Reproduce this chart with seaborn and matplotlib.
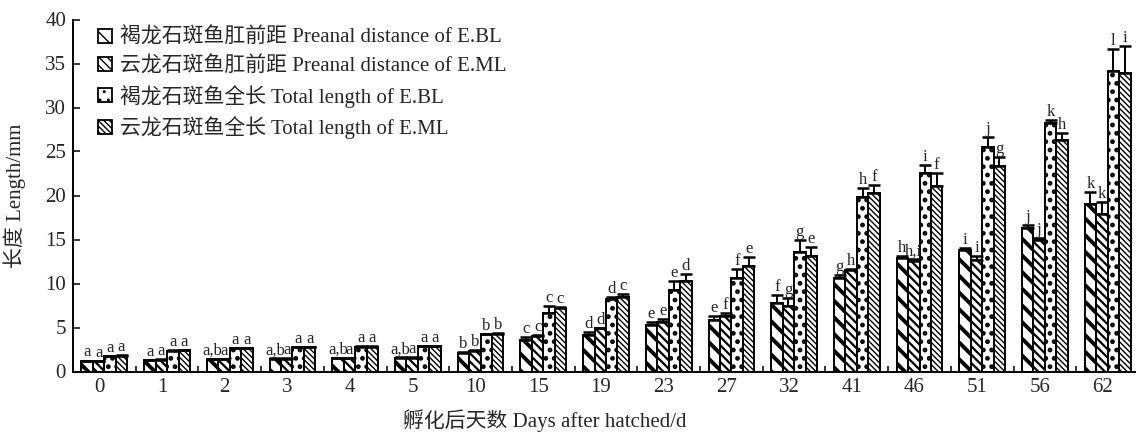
import numpy as np
import pandas as pd
import matplotlib
matplotlib.use('Agg')
import matplotlib.pyplot as plt
import matplotlib.transforms as mtransforms
import seaborn as sns
from matplotlib.patches import Patch
from matplotlib.ticker import MultipleLocator, FixedLocator

days = ['0', '1', '2', '3', '4', '5', '10', '15', '19', '23', '27', '32', '41', '46', '51', '56', '62']

series_names = [
    '褐龙石斑鱼肛前距 Preanal distance of E.BL',
    '云龙石斑鱼肛前距 Preanal distance of E.ML',
    '褐龙石斑鱼全长 Total length of E.BL',
    '云龙石斑鱼全长 Total length of E.ML',
]

bl_pd = [1.2, 1.27, 1.38, 1.45, 1.5, 1.57, 2.07, 3.6, 4.2, 5.3, 5.8, 7.75, 10.6, 12.9, 13.8, 16.3, 19.0]
ml_pd = [1.15, 1.35, 1.38, 1.45, 1.5, 1.57, 2.3, 4.0, 4.9, 5.65, 6.3, 7.4, 11.5, 12.55, 12.7, 14.9, 17.9]
bl_tl = [1.76, 2.36, 2.64, 2.75, 2.8, 2.9, 4.26, 6.6, 8.2, 9.3, 10.6, 13.6, 19.8, 22.6, 25.5, 28.2, 34.2]
ml_tl = [1.8, 2.4, 2.64, 2.75, 2.8, 2.9, 4.3, 7.25, 8.5, 10.3, 12.0, 13.1, 20.3, 21.1, 23.3, 26.3, 33.9]

bl_pd_err = [0.05, 0.05, 0.05, 0.05, 0.05, 0.05, 0.1, 0.35, 0.25, 0.35, 0.5, 0.95, 0.4, 0.2, 0.2, 0.3, 1.4]
ml_pd_err = [0.05, 0.05, 0.05, 0.05, 0.05, 0.05, 0.1, 0.1, 0.1, 0.35, 0.4, 0.9, 0.2, 0.2, 0.4, 0.3, 1.4]
bl_tl_err = [0.05, 0.05, 0.05, 0.05, 0.05, 0.05, 0.05, 0.8, 0.3, 1.0, 1.1, 1.3, 1.1, 0.9, 1.1, 0.4, 2.4]
ml_tl_err = [0.05, 0.05, 0.05, 0.05, 0.05, 0.05, 0.05, 0.1, 0.3, 0.8, 1.0, 1.1, 0.9, 1.5, 1.1, 0.8, 3.1]

bl_pd_lab = ['a', 'a', 'a,b', 'a,b', 'a,b', 'a,b', 'b', 'c', 'd', 'e', 'e', 'f', 'g', 'h', 'i', 'j', 'k']
ml_pd_lab = ['a', 'a', 'a', 'a', 'a', 'a', 'b', 'c', 'd', 'e', 'f', 'g', 'h', 'h,i', 'i', 'j', 'k']
bl_tl_lab = ['a', 'a', 'a', 'a', 'a', 'a', 'b', 'c', 'd', 'e', 'f', 'g', 'h', 'i', 'j', 'k', 'l']
ml_tl_lab = ['a', 'a', 'a', 'a', 'a', 'a', 'b', 'c', 'c', 'd', 'e', 'e', 'f', 'f', 'g', 'h', 'i']

values = [bl_pd, ml_pd, bl_tl, ml_tl]
errors = [bl_pd_err, ml_pd_err, bl_tl_err, ml_tl_err]
letters = [bl_pd_lab, ml_pd_lab, bl_tl_lab, ml_tl_lab]
hatches = ['\\\\', '\\\\\\\\', '..', '\\\\\\\\\\\\']
hatch_lw = [2.8, 1.6, 2.2, 1.0]

df = pd.DataFrame({
    'day': np.tile(days, 4),
    'series': np.repeat(series_names, len(days)),
    'length': np.concatenate(values),
})

sns.set_style('ticks')
plt.rcParams['font.family'] = ['Liberation Serif', 'Noto Sans CJK SC']
plt.rcParams['hatch.color'] = 'black'

fig = plt.figure(figsize=(11.36, 4.32), dpi=100)
ax = fig.add_axes([73 / 1136, 60.5 / 432, 1066 / 1136, 352 / 432])

sns.barplot(data=df, x='day', y='length', hue='series', order=days,
            hue_order=series_names, palette=['white'] * 4, width=0.73,
            errorbar=None, legend=False, edgecolor='black', linewidth=1.4,
            saturation=1, ax=ax)

bar_conts = list(ax.containers)
for i, cont in enumerate(bar_conts):
    xs, tops = [], []
    for bar in cont.patches:
        bar.set_hatch(hatches[i])
        bar.set_facecolor('white')
        try:
            bar.set_hatch_linewidth(hatch_lw[i])
        except AttributeError:
            pass
        xs.append(bar.get_x() + bar.get_width() / 2)
        tops.append(bar.get_height())
    ax.errorbar(xs, tops, yerr=[np.zeros(len(tops)), errors[i]], fmt='none',
                ecolor='black', elinewidth=1.4, capsize=4.5, capthick=1.8, zorder=3)
    for x, t, e, lab in zip(xs, tops, errors[i], letters[i]):
        ax.annotate(lab, (x, t + e), xytext=(0, 0), textcoords='offset points',
                    ha='center', va='bottom', fontsize=12)

ax.set_ylim(0, 40)
ax.set_xlim(-0.5, 16.5)
ax.yaxis.set_major_locator(MultipleLocator(5))
ax.xaxis.set_minor_locator(FixedLocator(np.arange(0.5, 16, 1)))
ax.tick_params(axis='y', direction='in', length=5, width=1.3, labelsize=15, pad=5)
ax.tick_params(axis='x', which='major', length=0, labelsize=15, pad=5)
ax.tick_params(axis='x', which='minor', direction='in', length=4, width=1.3)
for side in ['top', 'right']:
    ax.spines[side].set_visible(False)
for side in ['left', 'bottom']:
    ax.spines[side].set_linewidth(1.4)
    ax.spines[side].set_color('black')

# tick labels sit a little left of the group centres in the original
shift = mtransforms.ScaledTranslation(-5 / 100, 0, fig.dpi_scale_trans)
for lbl in ax.get_xticklabels():
    lbl.set_transform(lbl.get_transform() + shift)

ax.set_xlabel('孵化后天数 Days after hatched/d', fontsize=15)
ax.set_ylabel('长度 Length/mm', fontsize=15)
ax.xaxis.set_label_coords((545 - 73) / 1066, -0.108)
ax.yaxis.set_label_coords(-0.044, 0.5)

handles = []
for i, name in enumerate(series_names):
    p = Patch(facecolor='white', edgecolor='black', hatch=hatches[i], linewidth=1.3, label=name)
    try:
        p.set_hatch_linewidth(hatch_lw[i])
    except AttributeError:
        pass
    handles.append(p)
ax.legend(handles=handles, loc='upper left', bbox_to_anchor=(0.016, 1.0), frameon=False,
          fontsize=15, handlelength=0.65, handleheight=0.65, handletextpad=0.4,
          labelspacing=0.4, borderaxespad=0)

fig.savefig('out.png', dpi=100)
